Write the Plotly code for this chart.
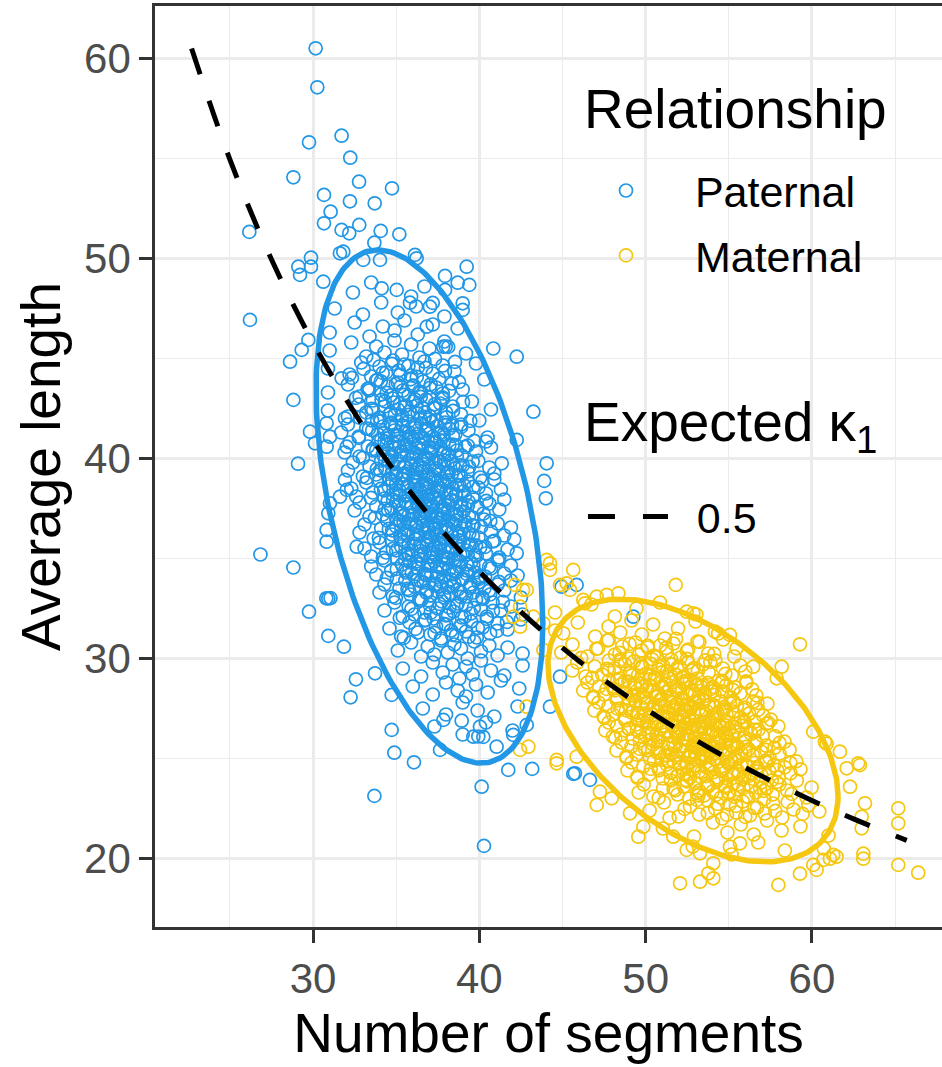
import numpy as np
import plotly.graph_objects as go

BLUE = "#2297E6"
YELLOW = "#F5C710"

# ---------------- data ----------------
# Paternal (blue) points: (number of segments, average length)
paternal_points = [
    # sparse points outside / at the edge of the cloud
    (30.16, 60.51), (30.26, 58.56), (29.76, 55.81), (31.72, 56.14), (32.24, 55.04), (28.82, 54.06),
    (32.77, 53.84), (34.75, 53.51), (30.66, 53.18), (32.22, 52.86), (33.71, 52.76), (31.06, 52.34),
    (30.66, 51.76), (32.78, 51.68), (31.72, 51.43), (32.18, 51.26), (34.07, 51.38), (35.19, 51.21),
    (33.69, 50.79), (26.17, 51.33), (31.82, 50.34), (29.88, 50.04), (29.88, 49.59), (29.12, 49.59),
    (29.22, 49.18), (36.13, 50.18), (36.23, 50.01), (30.62, 48.84), (37.94, 49.13), (39.24, 49.59),
    (38.70, 48.79), (39.40, 48.68), (37.94, 48.43), (39.0, 47.76), (39.0, 47.43), (36.84, 46.59),
    (35.83, 47.79), (35.03, 48.43), (34.13, 48.51), (40.84, 45.5), (42.25, 45.09), (26.21, 46.93),
    (28.62, 44.84), (29.32, 45.43), (29.72, 45.93), (28.82, 42.93), (31.72, 44.01), (43.25, 42.34),
    (29.1, 39.74), (42.25, 40.93), (41.35, 39.76), (44.05, 39.76), (43.9, 38.88), (44.0, 38.01),
    (26.84, 35.2), (28.82, 34.55), (42.25, 35.26), (29.76, 32.34), (30.8, 33.01), (30.92, 33.0),
    (31.05, 33.02), (30.92, 31.13), (31.86, 30.59), (32.58, 28.96), (32.26, 28.06), (33.73, 29.26),
    (34.73, 28.18), (34.73, 26.43), (34.89, 25.29), (36.07, 24.81), (33.69, 23.13), (37.64, 25.43),
    (40.14, 23.59), (40.28, 20.63), (41.74, 24.43), (43.18, 24.48), (45.65, 24.23), (45.85, 33.68),
    (44.95, 33.59), (49.26, 32.09), (44.85, 29.09), (44.25, 27.59), (45.75, 24.26), (46.65, 23.93),
    (30.82, 36.43), (30.82, 35.84), (32.63, 35.59), (37.83, 45.59), (37.98, 45.6), (38.13, 45.58),
    (37.03, 47.59), (37.2, 47.78), (31.62, 50.26), (33.02, 49.93), (34.03, 49.93), (29.82, 41.34),
    (30.12, 40.76), (30.82, 41.76), (31.02, 41.09), (30.82, 40.59), (32.03, 40.59), (31.92, 42.01),
    (32.03, 38.43), (31.62, 38.09), (31.92, 38.93), (31.02, 37.76), (30.92, 37.26), (38.94, 26.89),
    (37.84, 26.93), (40.04, 26.59), (41.04, 25.59), (42.04, 26.18), (42.85, 26.68), (39.64, 26.09),
    (39.94, 26.1), (40.24, 26.08),
    # dense core, band by band (estimated)
    (32.4, 48.3), (33.5, 48.8), (35.9, 48.1), (36.7, 48.6),
    (31.3, 47.5), (33.0, 47.2), (34.1, 47.8), (35.1, 47.3), (36.2, 47.6), (37.9, 47.1),
    (31.0, 46.3), (32.5, 46.8), (33.4, 46.1), (34.2, 46.6), (34.9, 46.4), (35.5, 46.9), (36.3, 46.2),
    (37.2, 46.7), (38.7, 46.5),
    (31.0, 45.4), (32.3, 45.8), (33.2, 45.1), (33.8, 45.6), (34.3, 45.3), (34.9, 45.9), (35.35, 45.2),
    (35.9, 45.7), (36.4, 45.05), (37.0, 45.5), (37.9, 45.85), (39.2, 45.25),
    (30.9, 44.5), (32.2, 44.2), (32.9, 44.8), (33.5, 44.1), (34.0, 44.6), (34.4, 44.3), (34.8, 44.9),
    (35.15, 44.4), (35.5, 44.7), (35.9, 44.15), (36.3, 44.55), (36.7, 44.85), (37.2, 44.25),
    (37.8, 44.65), (38.5, 44.35), (39.8, 44.75),
    (30.9, 43.3), (32.1, 43.7), (32.8, 43.1), (33.35, 43.5), (33.8, 43.9), (34.1, 43.2), (34.5, 43.6),
    (34.8, 43.0), (35.1, 43.8), (35.4, 43.4), (35.75, 43.15), (36.05, 43.65), (36.4, 43.35),
    (36.65, 43.85), (37.0, 43.05), (37.4, 43.55), (37.8, 43.25), (38.35, 43.75), (39.0, 43.45),
    (40.3, 43.95),
    (30.9, 42.4), (32.1, 42.1), (32.75, 42.7), (33.2, 42.3), (33.6, 42.9), (34.0, 42.05), (34.3, 42.6),
    (34.6, 42.2), (34.85, 42.8), (35.1, 42.45), (35.35, 42.15), (35.6, 42.65), (35.8, 42.35),
    (36.05, 42.85), (36.3, 42.25), (36.55, 42.55), (36.8, 42.95), (37.05, 42.1), (37.35, 42.5),
    (37.65, 42.75), (38.0, 42.3), (38.4, 42.6), (38.9, 42.2), (39.55, 42.85), (40.7, 42.45),
    (31.7, 41.3), (32.1, 41.7), (32.75, 41.1), (33.2, 41.5), (33.55, 41.9), (33.9, 41.2), (34.2, 41.6),
    (34.45, 41.0), (34.7, 41.8), (34.9, 41.4), (35.15, 41.15), (35.35, 41.65), (35.55, 41.35),
    (35.75, 41.85), (35.95, 41.05), (36.15, 41.55), (36.35, 41.25), (36.55, 41.75), (36.8, 41.45),
    (36.98, 41.95), (37.2, 41.1), (37.45, 41.6), (37.7, 41.3), (37.93, 41.8), (38.2, 41.5),
    (38.55, 41.2), (38.9, 41.7), (39.35, 41.4), (40.0, 41.9), (40.5, 41.05),
    (31.9, 40.3), (32.2, 40.8), (32.8, 40.1), (33.3, 40.6), (33.6, 40.4), (33.95, 40.9), (34.2, 40.2),
    (34.45, 40.7), (34.7, 40.05), (34.9, 40.5), (35.1, 40.85), (35.3, 40.35), (35.5, 40.65),
    (35.65, 40.15), (35.85, 40.55), (36.05, 40.95), (36.2, 40.25), (36.4, 40.75), (36.55, 40.45),
    (36.75, 40.1), (36.95, 40.6), (37.1, 40.3), (37.3, 40.8), (37.5, 40.0), (37.7, 40.5), (37.9, 40.9),
    (38.15, 40.2), (38.4, 40.7), (38.65, 40.4), (38.95, 40.15), (39.3, 40.65), (39.8, 40.35),
    (40.4, 40.85), (40.7, 40.55),
    (32.1, 39.4), (32.4, 39.8), (33.0, 39.1), (33.4, 39.6), (33.8, 39.2), (34.1, 39.9), (34.35, 39.5),
    (34.6, 39.0), (34.8, 39.7), (35.0, 39.3), (35.2, 39.85), (35.4, 39.15), (35.55, 39.55),
    (35.75, 39.25), (35.9, 39.75), (36.05, 39.05), (36.25, 39.45), (36.4, 39.65), (36.55, 39.35),
    (36.7, 39.95), (36.85, 39.2), (37.0, 39.6), (37.2, 39.1), (37.35, 39.8), (37.55, 39.4),
    (37.7, 39.0), (37.9, 39.7), (38.1, 39.3), (38.3, 39.9), (38.55, 39.5), (38.75, 39.15),
    (39.0, 39.65), (39.3, 39.35), (39.6, 39.85), (40.05, 39.05), (40.6, 39.55), (40.9, 39.25),
    (32.3, 38.5), (32.6, 38.1), (33.2, 38.8), (33.6, 38.3), (34.0, 38.9), (34.3, 38.0), (34.55, 38.6),
    (34.8, 38.2), (35.0, 38.7), (35.2, 38.4), (35.4, 38.95), (35.6, 38.15), (35.75, 38.55),
    (35.95, 38.25), (36.1, 38.85), (36.25, 38.05), (36.4, 38.45), (36.55, 38.65), (36.7, 38.35),
    (36.78, 38.75), (36.85, 38.1), (37.0, 38.6), (37.15, 38.2), (37.3, 38.9), (37.45, 38.4),
    (37.6, 38.0), (37.8, 38.7), (38.0, 38.3), (38.2, 38.8), (38.4, 38.5), (38.6, 38.15),
    (38.8, 38.65), (39.05, 38.35), (39.3, 38.85), (39.6, 38.05), (39.95, 38.55), (40.4, 38.25),
    (40.9, 38.95), (41.3, 38.45),
    (32.5, 37.4), (32.8, 37.8), (33.4, 37.1), (33.8, 37.6), (34.2, 37.2), (34.5, 37.9), (34.7, 37.5),
    (35.0, 37.0), (35.15, 37.7), (35.35, 37.3), (35.55, 37.85), (35.75, 37.15), (35.9, 37.55),
    (36.1, 37.25), (36.25, 37.75), (36.4, 37.05), (36.55, 37.45), (36.7, 37.65), (36.8, 37.35),
    (36.95, 37.95), (37.1, 37.2), (37.2, 37.6), (37.35, 37.1), (37.5, 37.8), (37.65, 37.4),
    (37.8, 37.0), (37.95, 37.7), (38.1, 37.3), (38.3, 37.9), (38.45, 37.5), (38.65, 37.15),
    (38.85, 37.65), (39.05, 37.35), (39.35, 37.85), (39.6, 37.05), (39.9, 37.55), (40.25, 37.25),
    (40.6, 37.75), (41.2, 37.45), (41.5, 37.95),
    (32.8, 36.3), (33.1, 36.7), (33.65, 36.0), (34.1, 36.5), (34.45, 36.9), (34.75, 36.2), (35.0, 36.6),
    (35.25, 36.1), (35.45, 36.8), (35.65, 36.4), (35.85, 36.95), (36.05, 36.25), (36.25, 36.65),
    (36.4, 36.15), (36.6, 36.85), (36.75, 36.35), (36.9, 36.55), (37.05, 36.05), (37.2, 36.75),
    (37.3, 36.45), (37.4, 36.2), (37.55, 36.8), (37.7, 36.4), (37.85, 36.0), (38.0, 36.6),
    (38.15, 36.9), (38.35, 36.3), (38.55, 36.7), (38.75, 36.1), (38.95, 36.5), (39.15, 36.85),
    (39.4, 36.25), (39.65, 36.65), (39.95, 36.05), (40.3, 36.95), (40.7, 36.35), (41.1, 36.75),
    (41.5, 36.15), (41.9, 36.55),
    (33.1, 35.5), (33.5, 35.1), (34.0, 35.8), (34.4, 35.3), (34.75, 35.9), (35.05, 35.0), (35.3, 35.6),
    (35.55, 35.2), (35.75, 35.7), (35.95, 35.4), (36.15, 35.95), (36.35, 35.15), (36.55, 35.55),
    (36.7, 35.25), (36.9, 35.85), (37.05, 35.05), (37.2, 35.45), (37.35, 35.65), (37.5, 35.35),
    (37.65, 35.75), (37.8, 35.1), (37.95, 35.6), (38.1, 35.3), (38.3, 35.9), (38.45, 35.0),
    (38.65, 35.5), (38.85, 35.2), (39.05, 35.8), (39.25, 35.4), (39.5, 35.7), (39.75, 35.15),
    (40.05, 35.55), (40.4, 35.25), (40.8, 35.85), (41.2, 35.05), (41.7, 35.45), (42.1, 35.95),
    (33.5, 34.6), (33.8, 34.2), (34.3, 34.9), (34.7, 34.4), (35.05, 34.0), (35.35, 34.7), (35.6, 34.3),
    (35.85, 34.8), (36.1, 34.1), (36.3, 34.5), (36.5, 34.95), (36.7, 34.25), (36.9, 34.65),
    (37.1, 34.15), (37.3, 34.85), (37.45, 34.35), (37.65, 34.55), (37.85, 34.05), (38.0, 34.75),
    (38.2, 34.45), (38.4, 34.2), (38.6, 34.9), (38.8, 34.6), (39.0, 34.0), (39.25, 34.4),
    (39.5, 34.8), (39.75, 34.3), (40.05, 34.7), (40.35, 34.1), (40.7, 34.5), (41.1, 34.95),
    (41.5, 34.25), (41.9, 34.65), (42.3, 34.15),
    (34.0, 33.3), (34.3, 33.7), (34.8, 33.1), (35.2, 33.5), (35.55, 33.9), (35.85, 33.2), (36.1, 33.6),
    (36.4, 33.0), (36.65, 33.8), (36.85, 33.4), (37.05, 33.15), (37.3, 33.65), (37.5, 33.35),
    (37.7, 33.85), (37.9, 33.05), (38.1, 33.55), (38.3, 33.25), (38.5, 33.75), (38.7, 33.45),
    (38.95, 33.95), (39.2, 33.1), (39.45, 33.6), (39.65, 33.3), (39.95, 33.8), (40.3, 33.5),
    (40.65, 33.2), (41.1, 33.7), (41.5, 33.4), (41.9, 33.9), (42.5, 33.05),
    (34.3, 32.4), (34.9, 32.8), (35.4, 32.1), (35.75, 32.6), (36.1, 32.2), (36.4, 32.9), (36.7, 32.3),
    (37.0, 32.7), (37.25, 32.0), (37.5, 32.5), (37.75, 32.85), (38.0, 32.15), (38.2, 32.55),
    (38.45, 32.35), (38.7, 32.75), (38.95, 32.05), (39.2, 32.65), (39.5, 32.25), (39.8, 32.95),
    (40.1, 32.45), (40.45, 32.1), (40.8, 32.8), (41.3, 32.4), (41.9, 32.6), (42.6, 32.2),
    (34.6, 31.5), (35.3, 31.1), (35.8, 31.8), (36.3, 31.3), (36.7, 31.9), (37.05, 31.2), (37.4, 31.6),
    (37.7, 31.0), (38.0, 31.7), (38.3, 31.4), (38.6, 31.15), (38.9, 31.65), (39.2, 31.35),
    (39.5, 31.85), (39.85, 31.05), (40.2, 31.55), (40.65, 31.25), (41.1, 31.75), (41.7, 31.45),
    (42.5, 31.95),
    (35.1, 30.4), (35.9, 30.8), (36.5, 30.1), (36.9, 30.6), (37.3, 30.2), (37.7, 30.9), (38.1, 30.3),
    (38.5, 30.7), (38.9, 30.5), (39.3, 30.0), (39.7, 30.85), (40.1, 30.35), (40.6, 30.65),
    (41.1, 30.15), (41.7, 30.55), (42.6, 30.25),
    (35.4, 29.5), (36.5, 29.1), (37.2, 29.8), (37.8, 29.3), (38.4, 29.7), (38.8, 29.0), (39.2, 29.6),
    (39.6, 29.2), (40.1, 29.9), (40.7, 29.4), (41.5, 29.15), (42.6, 29.65),
    (36.0, 28.6), (37.2, 28.2), (38.0, 28.8), (38.7, 28.4), (39.2, 28.1), (39.8, 28.7), (40.5, 28.3),
    (41.3, 28.9), (42.4, 28.5),
    (36.6, 27.5), (38.0, 27.2), (39.0, 27.8), (39.9, 27.4), (40.9, 27.1), (42.3, 27.6),
    (37.3, 26.6), (39.0, 26.2), (40.4, 26.8), (42.0, 26.4),
    # dense core, second pass (points between the first-pass rows)
    (32.34, 44.03), (33.04, 44.48), (33.64, 44.93), (34.19, 44.28), (34.74, 44.73), (35.24, 44.18),
    (35.74, 44.63), (36.24, 44.08), (36.79, 44.53), (37.34, 44.98), (37.94, 44.38), (38.54, 44.83),
    (32.58, 43.03), (33.28, 43.48), (33.88, 43.93), (34.43, 43.28), (34.98, 43.73), (35.48, 43.18),
    (35.98, 43.63), (36.48, 43.08), (37.03, 43.53), (37.58, 43.98), (38.18, 43.38), (38.78, 43.83),
    (32.82, 42.03), (33.52, 42.48), (34.12, 42.93), (34.67, 42.28), (35.22, 42.73), (35.72, 42.18),
    (36.22, 42.63), (36.72, 42.08), (37.27, 42.53), (37.82, 42.98), (38.42, 42.38), (39.02, 42.83),
    (32.76, 41.03), (33.36, 41.48), (33.86, 41.93), (34.26, 41.28), (34.66, 41.73), (35.06, 41.18),
    (35.41, 41.63), (35.76, 41.08), (36.11, 41.53), (36.46, 41.98), (36.81, 41.38), (37.16, 41.83),
    (37.56, 41.23), (37.96, 41.68), (38.41, 41.13), (38.91, 41.58), (39.46, 41.88),
    (33.0, 40.03), (33.6, 40.48), (34.1, 40.93), (34.5, 40.28), (34.9, 40.73), (35.3, 40.18),
    (35.65, 40.63), (36.0, 40.08), (36.35, 40.53), (36.7, 40.98), (37.05, 40.38), (37.4, 40.83),
    (37.8, 40.23), (38.2, 40.68), (38.65, 40.13), (39.15, 40.58), (39.7, 40.88),
    (33.24, 39.03), (33.84, 39.48), (34.34, 39.93), (34.74, 39.28), (35.14, 39.73), (35.54, 39.18),
    (35.89, 39.63), (36.24, 39.08), (36.59, 39.53), (36.94, 39.98), (37.29, 39.38), (37.64, 39.83),
    (38.04, 39.23), (38.44, 39.68), (38.89, 39.13), (39.39, 39.58), (39.94, 39.88),
    (33.48, 38.03), (34.08, 38.48), (34.58, 38.93), (34.98, 38.28), (35.38, 38.73), (35.78, 38.18),
    (36.13, 38.63), (36.48, 38.08), (36.83, 38.53), (37.18, 38.98), (37.53, 38.38), (37.88, 38.83),
    (38.28, 38.23), (38.68, 38.68), (39.13, 38.13), (39.63, 38.58), (40.18, 38.88),
    (33.72, 37.03), (34.32, 37.48), (34.82, 37.93), (35.22, 37.28), (35.62, 37.73), (36.02, 37.18),
    (36.37, 37.63), (36.72, 37.08), (37.07, 37.53), (37.42, 37.98), (37.77, 37.38), (38.12, 37.83),
    (38.52, 37.23), (38.92, 37.68), (39.37, 37.13), (39.87, 37.58), (40.42, 37.88),
    (33.96, 36.03), (34.56, 36.48), (35.06, 36.93), (35.46, 36.28), (35.86, 36.73), (36.26, 36.18),
    (36.61, 36.63), (36.96, 36.08), (37.31, 36.53), (37.66, 36.98), (38.01, 36.38), (38.36, 36.83),
    (38.76, 36.23), (39.16, 36.68), (39.61, 36.13), (40.11, 36.58), (40.66, 36.88),
    (34.2, 35.03), (34.8, 35.48), (35.3, 35.93), (35.7, 35.28), (36.1, 35.73), (36.5, 35.18),
    (36.85, 35.63), (37.2, 35.08), (37.55, 35.53), (37.9, 35.98), (38.25, 35.38), (38.6, 35.83),
    (39.0, 35.23), (39.4, 35.68), (39.85, 35.13), (40.35, 35.58), (40.9, 35.88),
    (34.44, 34.03), (35.04, 34.48), (35.54, 34.93), (35.94, 34.28), (36.34, 34.73), (36.74, 34.18),
    (37.09, 34.63), (37.44, 34.08), (37.79, 34.53), (38.14, 34.98), (38.49, 34.38), (38.84, 34.83),
    (39.24, 34.23), (39.64, 34.68), (40.09, 34.13), (40.59, 34.58), (41.14, 34.88),
    (34.98, 33.03), (35.68, 33.48), (36.28, 33.93), (36.83, 33.28), (37.38, 33.73), (37.88, 33.18),
    (38.38, 33.63), (38.88, 33.08), (39.43, 33.53), (39.98, 33.98), (40.58, 33.38), (41.18, 33.83),
    (35.22, 32.03), (35.92, 32.48), (36.52, 32.93), (37.07, 32.28), (37.62, 32.73), (38.12, 32.18),
    (38.62, 32.63), (39.12, 32.08), (39.67, 32.53), (40.22, 32.98), (40.82, 32.38), (41.42, 32.83),
    (35.46, 31.03), (36.16, 31.48), (36.76, 31.93), (37.31, 31.28), (37.86, 31.73), (38.36, 31.18),
    (38.86, 31.63), (39.36, 31.08), (39.91, 31.53), (40.46, 31.98), (41.06, 31.38), (41.66, 31.83),
    # dense core, third pass (centre of the cloud)
    (33.38, 43.41), (34.08, 43.86), (34.68, 43.16), (35.28, 43.61), (35.88, 43.96), (36.48, 43.31),
    (37.08, 43.71), (37.78, 43.06),
    (33.62, 42.41), (34.32, 42.86), (34.92, 42.16), (35.52, 42.61), (36.12, 42.96), (36.72, 42.31),
    (37.32, 42.71), (38.02, 42.06),
    (33.56, 41.41), (34.06, 41.86), (34.51, 41.16), (34.96, 41.61), (35.36, 41.96), (35.76, 41.31),
    (36.16, 41.71), (36.56, 41.06), (36.96, 41.51), (37.41, 41.91), (37.86, 41.21), (38.36, 41.66),
    (33.8, 40.41), (34.3, 40.86), (34.75, 40.16), (35.2, 40.61), (35.6, 40.96), (36.0, 40.31),
    (36.4, 40.71), (36.8, 40.06), (37.2, 40.51), (37.65, 40.91), (38.1, 40.21), (38.6, 40.66),
    (34.04, 39.41), (34.54, 39.86), (34.99, 39.16), (35.44, 39.61), (35.84, 39.96), (36.24, 39.31),
    (36.64, 39.71), (37.04, 39.06), (37.44, 39.51), (37.89, 39.91), (38.34, 39.21), (38.84, 39.66),
    (34.28, 38.41), (34.78, 38.86), (35.23, 38.16), (35.68, 38.61), (36.08, 38.96), (36.48, 38.31),
    (36.88, 38.71), (37.28, 38.06), (37.68, 38.51), (38.13, 38.91), (38.58, 38.21), (39.08, 38.66),
    (34.52, 37.41), (35.02, 37.86), (35.47, 37.16), (35.92, 37.61), (36.32, 37.96), (36.72, 37.31),
    (37.12, 37.71), (37.52, 37.06), (37.92, 37.51), (38.37, 37.91), (38.82, 37.21), (39.32, 37.66),
    (34.76, 36.41), (35.26, 36.86), (35.71, 36.16), (36.16, 36.61), (36.56, 36.96), (36.96, 36.31),
    (37.36, 36.71), (37.76, 36.06), (38.16, 36.51), (38.61, 36.91), (39.06, 36.21), (39.56, 36.66),
    (35.0, 35.41), (35.5, 35.86), (35.95, 35.16), (36.4, 35.61), (36.8, 35.96), (37.2, 35.31),
    (37.6, 35.71), (38.0, 35.06), (38.4, 35.51), (38.85, 35.91), (39.3, 35.21), (39.8, 35.66),
    (35.54, 34.41), (36.24, 34.86), (36.84, 34.16), (37.44, 34.61), (38.04, 34.96), (38.64, 34.31),
    (39.24, 34.71), (39.94, 34.06),
    (35.78, 33.41), (36.48, 33.86), (37.08, 33.16), (37.68, 33.61), (38.28, 33.96), (38.88, 33.31),
    (39.48, 33.71), (40.18, 33.06),
]

# Maternal (yellow) points
maternal_points = [
    # sparse points outside / at the edge of the cloud
    (51.81, 33.68), (48.36, 33.26), (52.47, 32.34), (52.87, 32.26), (54.17, 31.34), (55.07, 31.18),
    (59.28, 30.71), (58.18, 29.59), (57.88, 29.01), (55.47, 30.51), (56.47, 29.59), (60.08, 26.34),
    (60.78, 25.84), (61.68, 25.34), (62.78, 24.76), (62.09, 24.51), (62.29, 23.59), (63.19, 22.76),
    (62.99, 22.09), (62.99, 21.51), (65.19, 22.51), (65.19, 21.76), (63.09, 20.24), (63.09, 19.99),
    (65.19, 19.68), (66.39, 19.29), (61.28, 20.18), (60.68, 19.93), (60.08, 19.68), (59.28, 19.24),
    (60.28, 19.43), (57.98, 18.68), (54.07, 19.01), (53.27, 18.84), (52.07, 18.76), (53.77, 19.26),
    (49.56, 21.09), (47.06, 22.68), (49.06, 22.26), (49.86, 21.59), (44.65, 24.76), (45.85, 25.09),
    (51.66, 21.09), (52.47, 20.43), (53.27, 20.26), (55.07, 20.59), (55.67, 20.76), (61.48, 20.09),
    (61.08, 19.99), (60.88, 25.74), (62.88, 24.67), (44.85, 33.68), (45.45, 33.43), (44.25, 34.43),
    (47.06, 33.09), (47.66, 33.18), (46.35, 32.76), (42.14, 33.68), (42.45, 31.59), (42.63, 33.43),
    (42.04, 32.09), (42.85, 33.43), (44.05, 34.93), (45.25, 33.76), (45.05, 31.26), (42.85, 27.59),
    (42.95, 25.59), (44.65, 24.93), (42.45, 25.43), (42.45, 32.59), (44.25, 34.76), (45.65, 34.43),
    (43.25, 32.09), (43.85, 31.76), (43.85, 30.43), (47.25, 23.34), (47.96, 23.01), (54.07, 19.76),
    (46.25, 32.93),
    # dense core, band by band (estimated)
    (44.55, 32.3), (46.74, 32.7), (48.15, 32.1), (49.45, 32.5), (50.86, 32.8), (53.05, 32.2),
    (44.56, 31.4), (45.92, 31.8), (46.97, 31.1), (47.77, 31.6), (48.47, 31.3), (49.15, 31.9),
    (49.77, 31.2), (50.45, 31.7), (51.15, 31.0), (51.95, 31.5), (53.0, 31.85), (54.36, 31.25),
    (44.93, 30.3), (45.6, 30.7), (46.5, 30.1), (47.14, 30.5), (47.7, 30.9), (48.16, 30.2), (48.59, 30.6),
    (48.99, 30.0), (49.39, 30.8), (49.76, 30.4), (50.13, 30.55), (50.5, 30.15), (50.87, 30.65),
    (51.27, 30.35), (51.67, 30.75), (52.1, 30.05), (52.56, 30.45), (53.12, 30.85), (53.76, 30.25),
    (54.66, 30.95), (55.33, 30.1),
    (45.59, 29.4), (45.89, 29.8), (46.39, 29.1), (46.94, 29.6), (47.39, 29.2), (47.79, 29.9),
    (48.14, 29.5), (48.46, 29.0), (48.76, 29.7), (49.03, 29.3), (49.29, 29.85), (49.54, 29.15),
    (49.79, 29.55), (50.04, 29.25), (50.29, 29.75), (50.54, 29.05), (50.79, 29.45), (51.04, 29.65),
    (51.29, 29.35), (51.54, 29.95), (51.79, 29.2), (52.04, 29.6), (52.29, 29.1), (52.55, 29.8),
    (52.82, 29.4), (53.12, 29.0), (53.44, 29.7), (53.79, 29.3), (54.19, 29.9), (54.64, 29.5),
    (55.19, 29.15), (55.69, 29.65), (55.99, 29.35),
    (46.25, 28.4), (46.5, 28.8), (46.85, 28.1), (47.2, 28.6), (47.5, 28.2), (47.8, 28.9), (48.05, 28.5),
    (48.3, 28.0), (48.53, 28.7), (48.75, 28.3), (48.96, 28.85), (49.16, 28.15), (49.35, 28.55),
    (49.54, 28.25), (49.72, 28.75), (49.9, 28.05), (50.07, 28.45), (50.24, 28.65), (50.41, 28.35),
    (50.58, 28.95), (50.75, 28.12), (51.0, 28.62), (51.25, 28.32), (51.45, 28.5), (51.65, 28.82),
    (51.9, 28.42), (52.15, 28.02), (52.32, 28.72), (52.49, 28.22), (52.66, 28.92), (52.83, 28.38),
    (53.0, 28.68), (53.18, 28.08), (53.36, 28.58), (53.55, 28.28), (53.74, 28.78), (53.94, 28.48),
    (54.15, 28.18), (54.37, 28.88), (54.6, 28.36), (54.85, 28.66), (55.1, 28.06), (55.4, 28.56),
    (55.7, 28.26), (56.05, 28.86), (56.4, 28.46), (56.65, 28.16),
    (46.92, 27.4), (47.17, 27.8), (47.47, 27.1), (47.77, 27.6), (48.02, 27.2), (48.27, 27.9),
    (48.52, 27.5), (48.75, 27.0), (48.97, 27.7), (49.17, 27.3), (49.37, 27.85), (49.56, 27.15),
    (49.74, 27.55), (49.92, 27.25), (50.09, 27.75), (50.26, 27.05), (50.42, 27.45), (50.58, 27.65),
    (50.74, 27.35), (50.89, 27.95), (51.04, 27.12), (51.19, 27.62), (51.34, 27.32), (51.49, 27.82),
    (51.64, 27.42), (51.78, 27.02), (51.92, 27.72), (52.05, 27.22), (52.12, 27.52), (52.19, 27.92),
    (52.32, 27.38), (52.46, 27.68), (52.6, 27.08), (52.75, 27.58), (52.9, 27.28), (53.05, 27.78),
    (53.2, 27.48), (53.35, 27.18), (53.5, 27.88), (53.66, 27.36), (53.82, 27.66), (53.98, 27.06),
    (54.15, 27.56), (54.32, 27.26), (54.5, 27.86), (54.68, 27.46), (54.87, 27.16), (55.07, 27.76),
    (55.27, 27.34), (55.49, 27.64), (55.72, 27.04), (55.97, 27.54), (56.22, 27.24), (56.47, 27.84),
    (56.77, 27.44), (57.07, 27.14), (57.32, 27.74),
    (47.58, 26.4), (47.78, 26.8), (48.03, 26.1), (48.28, 26.6), (48.53, 26.2), (48.78, 26.9),
    (49.0, 26.5), (49.22, 26.0), (49.43, 26.7), (49.63, 26.3), (49.82, 26.85), (50.01, 26.15),
    (50.19, 26.55), (50.37, 26.25), (50.54, 26.75), (50.71, 26.05), (50.88, 26.45), (51.04, 26.65),
    (51.2, 26.35), (51.36, 26.95), (51.51, 26.12), (51.66, 26.62), (51.81, 26.32), (51.96, 26.82),
    (52.1, 26.42), (52.24, 26.02), (52.38, 26.72), (52.51, 26.22), (52.64, 26.92), (52.75, 26.52),
    (52.81, 26.38), (52.92, 26.68), (53.05, 26.08), (53.18, 26.58), (53.32, 26.28), (53.46, 26.78),
    (53.6, 26.48), (53.75, 26.18), (53.9, 26.88), (54.05, 26.36), (54.2, 26.66), (54.36, 26.06),
    (54.52, 26.56), (54.68, 26.26), (54.85, 26.86), (55.02, 26.46), (55.19, 26.16), (55.37, 26.76),
    (55.55, 26.34), (55.74, 26.64), (55.93, 26.04), (56.13, 26.54), (56.34, 26.24), (56.56, 26.84),
    (56.78, 26.44), (57.03, 26.14), (57.28, 26.74), (57.53, 26.94), (57.78, 26.11), (57.98, 26.61),
    (48.25, 25.4), (48.55, 25.8), (48.85, 25.1), (49.15, 25.6), (49.45, 25.2), (49.65, 25.9),
    (49.95, 25.5), (50.25, 25.0), (50.45, 25.7), (50.7, 25.3), (50.93, 25.85), (51.14, 25.15),
    (51.33, 25.55), (51.51, 25.25), (51.69, 25.75), (51.88, 25.05), (52.06, 25.45), (52.22, 25.65),
    (52.37, 25.35), (52.53, 25.95), (52.68, 25.12), (52.83, 25.62), (52.97, 25.32), (53.1, 25.82),
    (53.22, 25.42), (53.33, 25.02), (53.41, 25.72), (53.45, 25.52), (53.49, 25.22), (53.57, 25.92),
    (53.68, 25.38), (53.8, 25.68), (53.93, 25.08), (54.07, 25.58), (54.22, 25.28), (54.37, 25.78),
    (54.53, 25.48), (54.68, 25.18), (54.84, 25.88), (55.02, 25.36), (55.21, 25.66), (55.39, 25.06),
    (55.57, 25.56), (55.76, 25.26), (55.97, 25.86), (56.2, 25.46), (56.45, 25.16), (56.65, 25.76),
    (56.95, 25.34), (57.25, 25.64), (57.45, 25.04), (57.75, 25.54), (58.05, 25.24), (58.35, 25.84),
    (58.65, 25.44),
    (48.91, 24.4), (49.16, 24.8), (49.51, 24.1), (49.86, 24.6), (50.21, 24.2), (50.51, 24.9),
    (50.78, 24.5), (51.03, 24.0), (51.27, 24.7), (51.49, 24.3), (51.7, 24.85), (51.91, 24.15),
    (52.11, 24.55), (52.3, 24.25), (52.49, 24.75), (52.67, 24.05), (52.85, 24.45), (53.03, 24.65),
    (53.21, 24.35), (53.39, 24.95), (53.63, 24.12), (53.87, 24.62), (54.11, 24.32), (54.35, 24.82),
    (54.59, 24.42), (54.83, 24.02), (55.01, 24.72), (55.19, 24.22), (55.37, 24.92), (55.55, 24.38),
    (55.73, 24.68), (55.92, 24.08), (56.11, 24.58), (56.31, 24.28), (56.52, 24.78), (56.73, 24.48),
    (56.95, 24.18), (57.19, 24.88), (57.44, 24.36), (57.71, 24.66), (58.01, 24.06), (58.36, 24.56),
    (58.71, 24.26), (59.06, 24.86), (59.31, 24.46),
    (49.58, 23.3), (49.88, 23.7), (50.47, 23.1), (51.05, 23.5), (51.52, 23.9), (51.92, 23.2),
    (52.29, 23.6), (52.62, 23.0), (52.93, 23.8), (53.21, 23.4), (53.5, 23.15), (53.76, 23.65),
    (54.03, 23.35), (54.28, 23.85), (54.53, 23.05), (54.78, 23.55), (55.03, 23.25), (55.28, 23.75),
    (55.53, 23.45), (55.8, 23.95), (56.06, 23.1), (56.35, 23.6), (56.63, 23.3), (56.94, 23.8),
    (57.27, 23.5), (57.64, 23.2), (58.04, 23.7), (58.51, 23.4), (59.09, 23.9), (59.68, 23.05),
    (59.98, 23.55),
    (50.24, 22.4), (51.1, 22.8), (51.99, 22.1), (52.67, 22.6), (53.22, 22.2), (53.72, 22.9),
    (54.18, 22.5), (54.61, 22.0), (55.04, 22.7), (55.44, 22.3), (55.84, 22.85), (56.27, 22.15),
    (56.7, 22.55), (57.16, 22.25), (57.66, 22.75), (58.21, 22.05), (58.89, 22.45), (59.78, 22.65),
    (60.44, 22.35),
    (51.04, 21.5), (52.91, 21.1), (54.05, 21.8), (54.92, 21.3), (55.72, 21.7), (56.5, 21.2),
    (57.3, 21.9), (58.17, 21.4), (59.31, 21.6), (61.0, 21.15),
    (52.83, 20.6), (55.17, 20.2), (56.77, 20.8), (58.37, 20.4), (60.71, 20.5),
    # dense core, second pass
    (46.13, 30.03), (47.03, 30.48), (47.78, 30.93), (48.43, 30.28), (49.03, 30.73), (49.58, 30.18),
    (50.13, 30.63), (50.68, 30.08), (51.23, 30.53), (51.83, 30.98), (52.48, 30.38), (53.23, 30.83),
    (54.13, 30.23),
    (46.79, 29.03), (47.69, 29.48), (48.44, 29.93), (49.09, 29.28), (49.69, 29.73), (50.24, 29.18),
    (50.79, 29.63), (51.34, 29.08), (51.89, 29.53), (52.49, 29.98), (53.14, 29.38), (53.89, 29.83),
    (54.79, 29.23),
    (46.85, 28.03), (47.65, 28.48), (48.3, 28.93), (48.85, 28.28), (49.35, 28.73), (49.8, 28.18),
    (50.25, 28.63), (50.65, 28.08), (51.05, 28.53), (51.45, 28.98), (51.85, 28.38), (52.25, 28.83),
    (52.65, 28.23), (53.1, 28.68), (53.55, 28.13), (54.05, 28.58), (54.6, 28.88), (55.25, 28.43),
    (56.05, 28.78),
    (47.52, 27.03), (48.32, 27.48), (48.97, 27.93), (49.52, 27.28), (50.02, 27.73), (50.47, 27.18),
    (50.92, 27.63), (51.32, 27.08), (51.72, 27.53), (52.12, 27.98), (52.52, 27.38), (52.92, 27.83),
    (53.32, 27.23), (53.77, 27.68), (54.22, 27.13), (54.72, 27.58), (55.27, 27.88), (55.92, 27.43),
    (56.72, 27.78),
    (48.18, 26.03), (48.98, 26.48), (49.63, 26.93), (50.18, 26.28), (50.68, 26.73), (51.13, 26.18),
    (51.58, 26.63), (51.98, 26.08), (52.38, 26.53), (52.78, 26.98), (53.18, 26.38), (53.58, 26.83),
    (53.98, 26.23), (54.43, 26.68), (54.88, 26.13), (55.38, 26.58), (55.93, 26.88), (56.58, 26.43),
    (57.38, 26.78),
    (48.85, 25.03), (49.65, 25.48), (50.3, 25.93), (50.85, 25.28), (51.35, 25.73), (51.8, 25.18),
    (52.25, 25.63), (52.65, 25.08), (53.05, 25.53), (53.45, 25.98), (53.85, 25.38), (54.25, 25.83),
    (54.65, 25.23), (55.1, 25.68), (55.55, 25.13), (56.05, 25.58), (56.6, 25.88), (57.25, 25.43),
    (58.05, 25.78),
    (49.51, 24.03), (50.31, 24.48), (50.96, 24.93), (51.51, 24.28), (52.01, 24.73), (52.46, 24.18),
    (52.91, 24.63), (53.31, 24.08), (53.71, 24.53), (54.11, 24.98), (54.51, 24.38), (54.91, 24.83),
    (55.31, 24.23), (55.76, 24.68), (56.21, 24.13), (56.71, 24.58), (57.26, 24.88), (57.91, 24.43),
    (58.71, 24.78),
    (50.78, 23.03), (51.68, 23.48), (52.43, 23.93), (53.08, 23.28), (53.68, 23.73), (54.23, 23.18),
    (54.78, 23.63), (55.33, 23.08), (55.88, 23.53), (56.48, 23.98), (57.13, 23.38), (57.88, 23.83),
    (58.78, 23.23),
    (51.44, 22.03), (52.34, 22.48), (53.09, 22.93), (53.74, 22.28), (54.34, 22.73), (54.89, 22.18),
    (55.44, 22.63), (55.99, 22.08), (56.54, 22.53), (57.14, 22.98), (57.79, 22.38), (58.54, 22.83),
    (59.44, 22.23),
    # dense core, third pass
    (47.79, 29.41), (48.49, 29.86), (49.19, 29.16), (49.79, 29.61), (50.39, 29.96), (50.99, 29.31),
    (51.59, 29.71), (52.19, 29.06), (52.89, 29.51), (53.59, 29.91),
    (48.15, 28.41), (48.75, 28.86), (49.3, 28.16), (49.8, 28.61), (50.25, 28.96), (50.7, 28.31),
    (51.15, 28.71), (51.6, 28.06), (52.05, 28.51), (52.5, 28.91), (52.95, 28.21), (53.45, 28.66),
    (54.0, 28.36), (54.6, 28.81),
    (48.82, 27.41), (49.42, 27.86), (49.97, 27.16), (50.47, 27.61), (50.92, 27.96), (51.37, 27.31),
    (51.82, 27.71), (52.27, 27.06), (52.72, 27.51), (53.17, 27.91), (53.62, 27.21), (54.12, 27.66),
    (54.67, 27.36), (55.27, 27.81),
    (49.48, 26.41), (50.08, 26.86), (50.63, 26.16), (51.13, 26.61), (51.58, 26.96), (52.03, 26.31),
    (52.48, 26.71), (52.93, 26.06), (53.38, 26.51), (53.83, 26.91), (54.28, 26.21), (54.78, 26.66),
    (55.33, 26.36), (55.93, 26.81),
    (50.15, 25.41), (50.75, 25.86), (51.3, 25.16), (51.8, 25.61), (52.25, 25.96), (52.7, 25.31),
    (53.15, 25.71), (53.6, 25.06), (54.05, 25.51), (54.5, 25.91), (54.95, 25.21), (55.45, 25.66),
    (56.0, 25.36), (56.6, 25.81),
    (50.81, 24.41), (51.41, 24.86), (51.96, 24.16), (52.46, 24.61), (52.91, 24.96), (53.36, 24.31),
    (53.81, 24.71), (54.26, 24.06), (54.71, 24.51), (55.16, 24.91), (55.61, 24.21), (56.11, 24.66),
    (56.66, 24.36), (57.26, 24.81),
    (51.78, 23.41), (52.48, 23.86), (53.18, 23.16), (53.78, 23.61), (54.38, 23.96), (54.98, 23.31),
    (55.58, 23.71), (56.18, 23.06), (56.88, 23.51), (57.58, 23.91),
]

paternal_x = [p[0] for p in paternal_points]
paternal_y = [p[1] for p in paternal_points]
maternal_x = [p[0] for p in maternal_points]
maternal_y = [p[1] for p in maternal_points]

# 95% ellipses (read): centre, half-extent in x and y, correlation
paternal_centre = (37.0, 37.6)
paternal_half = (6.82, 12.83)
paternal_rho = -0.455
maternal_centre = (52.85, 26.4)
maternal_half = (8.72, 6.57)
maternal_rho = -0.5

# expected kappa_1 = 0.5 curve
kappa_x = [22.7, 25, 27.5, 30, 32.5, 35, 37.5, 40, 42.5, 45, 47.5, 50, 52.5, 55, 57.5, 60, 62.5, 65.7]
kappa_y = [60.5, 54.96, 49.96, 45.8, 42.28, 39.26, 36.64, 34.35, 32.33, 30.53, 28.93, 27.48,
           26.17, 24.98, 23.9, 22.9, 21.98, 20.91]

x_ticks = [30, 40, 50, 60]
y_ticks = [20, 30, 40, 50, 60]


def ellipse(centre, half, rho, n=240):
    t = np.linspace(0, 2 * np.pi, n)
    ex = centre[0] + half[0] * np.cos(t)
    ey = centre[1] + half[1] * (rho * np.cos(t) + np.sqrt(1 - rho ** 2) * np.sin(t))
    return ex, ey


FONT = "Liberation Sans, Arial, sans-serif"
NBSP = "\u00a0"

fig = go.Figure()
fig.add_trace(go.Scatter(
    x=paternal_x, y=paternal_y, mode="markers", name=NBSP * 2 + "Paternal",
    legend="legend", legendgroup="p",
    marker=dict(symbol="circle-open", size=13, color=BLUE, line=dict(width=1.7, color=BLUE)),
))
fig.add_trace(go.Scatter(
    x=maternal_x, y=maternal_y, mode="markers", name=NBSP * 2 + "Maternal",
    legend="legend", legendgroup="m",
    marker=dict(symbol="circle-open", size=13, color=YELLOW, line=dict(width=1.7, color=YELLOW)),
))
ex, ey = ellipse(paternal_centre, paternal_half, paternal_rho)
fig.add_trace(go.Scatter(x=ex, y=ey, mode="lines", showlegend=False, hoverinfo="skip",
                         line=dict(color=BLUE, width=5.5)))
ex, ey = ellipse(maternal_centre, maternal_half, maternal_rho)
fig.add_trace(go.Scatter(x=ex, y=ey, mode="lines", showlegend=False, hoverinfo="skip",
                         line=dict(color=YELLOW, width=5.5)))
fig.add_trace(go.Scatter(
    x=kappa_x, y=kappa_y, mode="lines", name=NBSP * 2 + "0.5", legend="legend2",
    line=dict(color="black", width=5, dash="27px,28px", shape="spline", smoothing=1.0),
))

axis_common = dict(
    ticks="outside", ticklen=13, tickwidth=2.7, tickcolor="#333333",
    tickfont=dict(size=42, color="#4D4D4D", family=FONT),
    showgrid=True, gridcolor="#EBEBEB", gridwidth=2.7,
    showline=True, linecolor="#333333", linewidth=2.7, zeroline=False,
)

# white legend backgrounds (ggplot draws one box per guide)
legend_boxes = [
    dict(x0=0.5146, x1=0.963, y0=0.670, y1=0.950),
    dict(x0=0.5146, x1=0.9085, y0=0.3963, y1=0.5852),
]
shapes = [dict(type="rect", xref="paper", yref="paper", layer="between",
               fillcolor="white", line=dict(width=0), **b) for b in legend_boxes]

annotations = [
    dict(text="Relationship", x=0.5426, y=0.8881, xref="paper", yref="paper",
         xanchor="left", yanchor="middle", showarrow=False,
         font=dict(size=55, family=FONT, color="black")),
    dict(text="Expected κ<sub>1</sub>", x=0.5426, y=0.5440, xref="paper", yref="paper",
         xanchor="left", yanchor="middle", showarrow=False,
         font=dict(size=55, family=FONT, color="black")),
]

fig.update_layout(
    width=942, height=1067,
    margin=dict(l=155, r=0, t=6, b=140),
    paper_bgcolor="white", plot_bgcolor="white",
    font=dict(family=FONT, color="black"),
    shapes=shapes,
    annotations=annotations,
    xaxis=dict(
        range=[20.5, 67.82], tickvals=x_ticks, mirror=True,
        minor=dict(tickvals=[25, 35, 45, 55, 65], showgrid=True, gridcolor="#EBEBEB", gridwidth=1.4),
        title=dict(text="Number of segments", font=dict(size=55, family=FONT, color="black"), standoff=12),
        **axis_common,
    ),
    yaxis=dict(
        range=[16.575, 62.625], tickvals=y_ticks,
        minor=dict(tickvals=[25, 35, 45, 55], showgrid=True, gridcolor="#EBEBEB", gridwidth=1.4),
        title=dict(text="Average length", font=dict(size=55, family=FONT, color="black"), standoff=6),
        **axis_common,
    ),
    legend=dict(
        x=0.5413, y=0.8371, xanchor="left", yanchor="top", bgcolor="rgba(0,0,0,0)", borderwidth=0,
        font=dict(size=43, family=FONT, color="black"),
        itemwidth=80, traceorder="grouped", tracegroupgap=6, itemsizing="trace",
    ),
    legend2=dict(
        x=0.5438, y=0.4832, xanchor="left", yanchor="top", bgcolor="rgba(0,0,0,0)", borderwidth=0,
        font=dict(size=43, family=FONT, color="black"),
        itemwidth=80,
    ),
)

fig.write_html("out.html")
